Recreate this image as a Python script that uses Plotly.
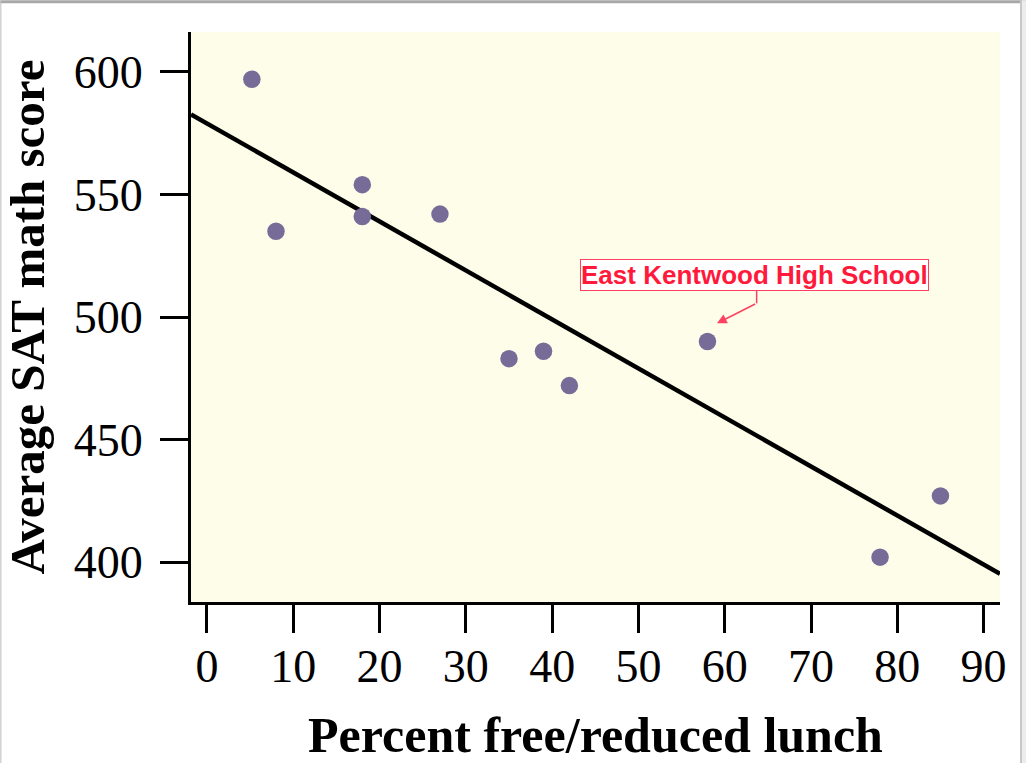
import plotly.graph_objects as go

# Data
pct_lunch = [5.2, 8, 18, 18, 27, 35, 39, 42, 58, 78, 85]
sat_math = [597, 535, 554, 541, 542, 483, 486, 472, 490, 402, 427]
fit_intercept = 579.0
fit_slope = -2.0
x_range = [-1.85, 91.9]
y_range = [383.7, 616.3]
x_ticks = [0, 10, 20, 30, 40, 50, 60, 70, 80, 90]
y_ticks = [400, 450, 500, 550, 600]

W, H = 1026, 763
L, R, T, B = 190.7, 26, 31.7, 161.3

fig = go.Figure()
fig.add_trace(go.Scatter(
    x=x_range, y=[fit_intercept + fit_slope * v for v in x_range],
    mode="lines", line=dict(color="black", width=4.5), hoverinfo="skip"))
fig.add_trace(go.Scatter(
    x=pct_lunch, y=sat_math, mode="markers",
    marker=dict(color="#776c98", size=17.5)))

serif = "Liberation Serif, Times New Roman, serif"
fig.update_layout(
    width=W, height=H, showlegend=False,
    margin=dict(l=L, r=R, t=T, b=B, pad=0, autoexpand=False),
    paper_bgcolor="white", plot_bgcolor="#fdfdea",
    font=dict(family=serif, color="black"),
)
fig.update_xaxes(
    range=x_range, tickvals=x_ticks, ticks="outside", ticklen=28, tickwidth=3,
    tickcolor="black", showline=True, linewidth=3, linecolor="black", automargin=False,
    showgrid=False, zeroline=False, tickfont=dict(size=46, family=serif),
    ticklabelstandoff=-6,
    title=dict(text="<b>Percent free/reduced lunch</b>", font=dict(size=50, family=serif), standoff=28))
fig.update_yaxes(
    range=y_range, tickvals=y_ticks, ticks="outside", ticklen=28, tickwidth=3,
    tickcolor="black", showline=True, linewidth=3, linecolor="black", automargin=False,
    showgrid=False, zeroline=False, tickfont=dict(size=46, family=serif),
    ticklabelstandoff=8,
    title=dict(text="<b>Average SAT math score</b>", font=dict(size=49, family=serif), standoff=16))

# annotation box
fig.add_annotation(
    x=63.5, y=517.2, xref="x", yref="y", showarrow=False,
    text="<b>East Kentwood High School</b>",
    font=dict(family="Liberation Sans, Arial, sans-serif", size=26, color="#ff1a3c"),
    bgcolor="white", bordercolor="#ff4060", borderwidth=1, borderpad=0)
# connector: vertical segment then arrow
fig.add_shape(type="line", x0=63.7, x1=63.7, y0=511.3, y1=505.6,
              xref="x", yref="y", line=dict(color="#ff4060", width=1.5))
fig.add_annotation(
    x=59.1, y=497.4, ax=63.7, ay=505.6, xref="x", yref="y", axref="x", ayref="y",
    text="", showarrow=True, arrowhead=2, arrowsize=1.3, arrowwidth=1.5, arrowcolor="#ff4060")

# grey page frame
pw = W - L - R
ph = H - T - B
def px(xp):
    return (xp - L) / pw
def py(yp):
    return (H - B - yp) / ph
fig.add_shape(type="line", xref="paper", yref="paper", x0=px(0), x1=px(W), y0=py(1.5), y1=py(1.5),
              line=dict(color="#a8a8a8", width=3))
fig.add_shape(type="line", xref="paper", yref="paper", x0=px(1021), x1=px(1021), y0=py(0), y1=py(H),
              line=dict(color="#c8c8c8", width=2))
fig.add_shape(type="rect", xref="paper", yref="paper", x0=px(1022), x1=px(W), y0=py(0), y1=py(H),
              line=dict(width=0), fillcolor="#ececec")
fig.add_shape(type="line", xref="paper", yref="paper", x0=px(0.5), x1=px(0.5), y0=py(0), y1=py(H),
              line=dict(color="#bbbbbb", width=1))

fig.write_html("out.html")
